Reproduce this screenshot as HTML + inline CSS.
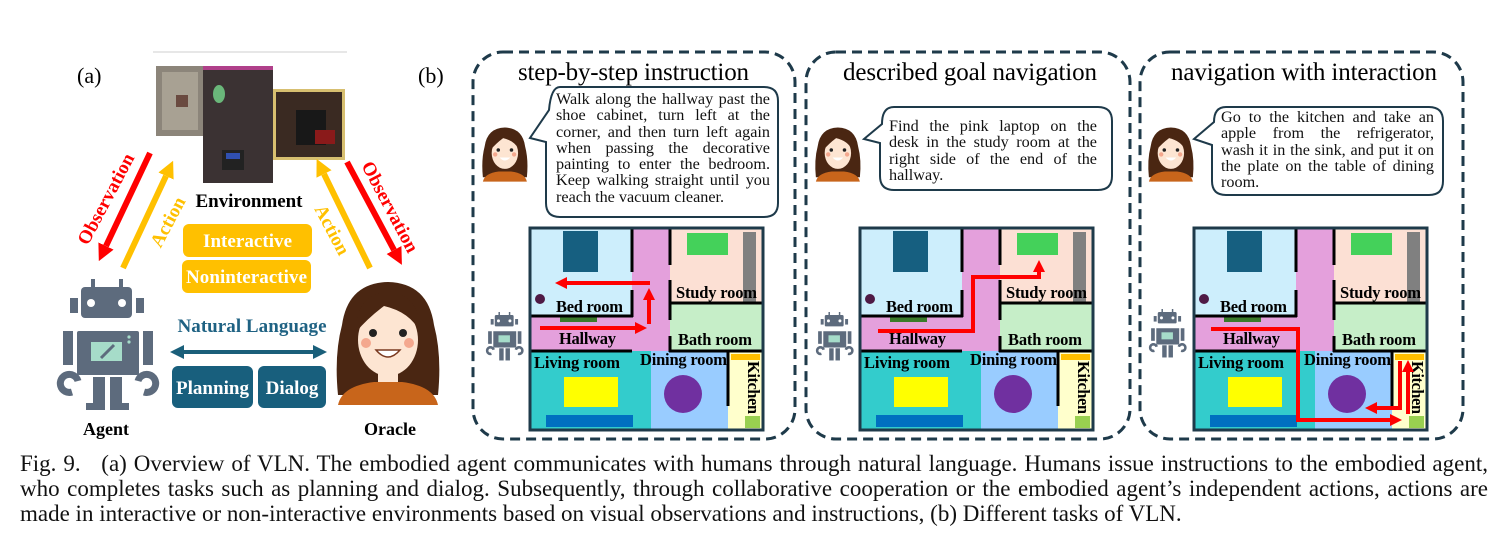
<!DOCTYPE html>
<html><head><meta charset="utf-8">
<style>
html,body{margin:0;padding:0;background:#fff;}
#w{position:relative;width:1504px;height:548px;overflow:hidden;font-family:"Liberation Serif",serif;}
svg{position:absolute;left:0;top:0;}
.bt{position:absolute;font-size:16.2px;line-height:16.3px;color:#111;}
.bt div{text-align:justify;text-align-last:justify;white-space:nowrap;}
.bt div.l{text-align-last:left;}
.cap{position:absolute;left:20px;width:1468px;font-size:23px;line-height:25px;color:#111;}
.cap div{text-align:justify;text-align-last:justify;white-space:nowrap;}
.cap div.l{text-align-last:left;}
</style></head><body><div id="w">
<svg width="1504" height="548" viewBox="0 0 1504 548" font-family="Liberation Serif, serif">
<defs>
<marker id="rh" viewBox="0 0 10 10" refX="0" refY="5" markerWidth="3" markerHeight="3.2" orient="auto"><path d="M0,0L10,5L0,10z" fill="#ff0000"/></marker>
<marker id="rb" viewBox="0 0 10 10" refX="0" refY="5" markerWidth="2.8" markerHeight="3" orient="auto"><path d="M0,0L10,5L0,10z" fill="#ff0000"/></marker>
<marker id="yb" viewBox="0 0 10 10" refX="0" refY="5" markerWidth="2.8" markerHeight="3" orient="auto"><path d="M0,0L10,5L0,10z" fill="#ffc000"/></marker>
<marker id="tb" viewBox="0 0 10 10" refX="0" refY="5" markerWidth="3.5" markerHeight="3.5" orient="auto-start-reverse"><path d="M0,0L10,5L0,10z" fill="#1a5f7a"/></marker>
</defs>

<text x="77" y="83" font-size="22">(a)</text>
<text x="418" y="83" font-size="22">(b)</text>
<line x1="153" y1="52" x2="347" y2="52" stroke="#cfcfcf" stroke-width="1"/>
<rect x="156" y="66" width="48" height="70" fill="#8c857a"/>
<rect x="162" y="72" width="36" height="58" fill="#a8a193"/>
<rect x="176" y="95" width="12" height="12" fill="#6a4a40"/>
<rect x="203" y="66" width="70" height="117" fill="#3b3233"/>
<rect x="203" y="66" width="70" height="4" fill="#b0408a"/>
<ellipse cx="219" cy="94" rx="6" ry="9" fill="#6ab77a"/>
<rect x="222" y="150" width="22" height="20" fill="#222"/>
<rect x="226" y="153" width="14" height="6" fill="#3050b0"/>
<rect x="273" y="89" width="72" height="71" fill="#d7bf70"/>
<rect x="276" y="92" width="66" height="65" fill="#3a2a22"/>
<rect x="296" y="110" width="30" height="35" fill="#181818"/>
<rect x="315" y="130" width="20" height="14" fill="#8a1a1a"/>
<text x="249" y="207" font-size="19" font-weight="bold" text-anchor="middle" textLength="107">Environment</text>

<rect x="183" y="224" width="129" height="33" rx="6" fill="#ffc000"/>
<text x="247.5" y="247" font-size="19" font-weight="bold" fill="#fff" text-anchor="middle" textLength="89">Interactive</text>
<rect x="182" y="260" width="129" height="33" rx="6" fill="#ffc000"/>
<text x="246.5" y="283" font-size="19" font-weight="bold" fill="#fff" text-anchor="middle" textLength="121">Noninteractive</text>

<text x="252" y="332" font-size="19" font-weight="bold" fill="#1f6283" text-anchor="middle" textLength="149">Natural Language</text>
<line x1="184" y1="352" x2="313" y2="352" stroke="#1a5f7a" stroke-width="4" marker-start="url(#tb)" marker-end="url(#tb)"/>
<rect x="172" y="366" width="81" height="42" rx="6" fill="#185f7d"/>
<text x="212.5" y="394" font-size="19" font-weight="bold" fill="#fff" text-anchor="middle" textLength="73">Planning</text>
<rect x="258" y="366" width="68" height="42" rx="6" fill="#185f7d"/>
<text x="292" y="394" font-size="19" font-weight="bold" fill="#fff" text-anchor="middle">Dialog</text>

<line x1="150" y1="153" x2="106" y2="246" stroke="#ff0000" stroke-width="6" marker-end="url(#rb)"/>
<line x1="123" y1="268" x2="166" y2="176" stroke="#ffc000" stroke-width="6" marker-end="url(#yb)"/>
<line x1="370" y1="268" x2="324" y2="174" stroke="#ffc000" stroke-width="6" marker-end="url(#yb)"/>
<line x1="347" y1="162" x2="394" y2="250" stroke="#ff0000" stroke-width="6" marker-end="url(#rb)"/>
<text transform="translate(106,199) rotate(-62)" font-size="19" font-weight="bold" fill="#ff0000" text-anchor="middle" dy="6">Observation</text>
<text transform="translate(168,222) rotate(-62)" font-size="19" font-weight="bold" fill="#ffc000" text-anchor="middle" dy="6">Action</text>
<text transform="translate(332,230) rotate(62)" font-size="19" font-weight="bold" fill="#ffc000" text-anchor="middle" dy="6">Action</text>
<text transform="translate(390,207) rotate(62)" font-size="19" font-weight="bold" fill="#ff0000" text-anchor="middle" dy="6">Observation</text>

<g fill="#5d6b7d">
<rect x="91" y="279" width="4" height="11"/><rect x="119" y="279" width="4" height="11"/>
<rect x="81" y="287" width="51" height="31" rx="4"/>
<circle cx="91" cy="303" r="4" fill="#fff"/><circle cx="122" cy="303" r="4" fill="#fff"/>
<rect x="70" y="298" width="8" height="15"/><rect x="136" y="298" width="8" height="15"/>
<rect x="77" y="331" width="62" height="44" rx="2"/>
<rect x="91" y="342" width="31" height="19" fill="#a6dcc9"/>
<line x1="101" y1="358" x2="114" y2="345" stroke="#5d6b7d" stroke-width="3"/>
<circle cx="129" cy="337" r="1.6" fill="#a6dcc9"/><circle cx="129" cy="342" r="1.6" fill="#a6dcc9"/>
<rect x="63" y="331" width="10" height="34"/><rect x="143" y="331" width="10" height="34"/>
<path d="M72,392 A9,9 0 1 1 78,381" fill="none" stroke="#5d6b7d" stroke-width="7"/>
<path d="M144,392 A9,9 0 1 0 138,381" fill="none" stroke="#5d6b7d" stroke-width="7"/>
<rect x="93" y="377" width="12" height="26"/><rect x="110" y="377" width="12" height="26"/>
<rect x="86" y="403" width="19" height="7"/><rect x="110" y="403" width="19" height="7"/>
</g>
<text x="106" y="435" font-size="18" font-weight="bold" text-anchor="middle">Agent</text>

<g>
<path d="M338,395 Q334,355 342,325 Q348,283 388,282 Q428,283 434,325 Q442,355 438,395 Z" fill="#4a2612"/>
<rect x="378" y="370" width="20" height="20" fill="#fde5d2"/>
<path d="M338,405 Q342,386 374,382 L402,382 Q434,386 438,405 Z" fill="#c8651b"/>
<ellipse cx="388" cy="340" rx="30" ry="36" fill="#fde5d2"/>
<path d="M356,332 Q356,294 388,292 Q420,294 420,332 Q410,312 384,306 Q368,318 356,332 Z" fill="#4a2612"/>
<circle cx="373" cy="333" r="4" fill="#222"/><circle cx="403" cy="333" r="4" fill="#222"/>
<circle cx="366" cy="343" r="5" fill="#f4a88e"/><circle cx="409" cy="343" r="5" fill="#f4a88e"/>
<path d="M376,350 Q388,364 400,350 Z" fill="#fff" stroke="#7a3a20" stroke-width="1.5"/>
</g>
<text x="390" y="435" font-size="18" font-weight="bold" text-anchor="middle">Oracle</text>

<rect x="473" y="52" width="322" height="387" rx="30" fill="none" stroke="#1e3a4a" stroke-width="3" stroke-dasharray="10 6"/>
<rect x="806" y="52" width="324" height="387" rx="30" fill="none" stroke="#1e3a4a" stroke-width="3" stroke-dasharray="10 6"/>
<rect x="1140" y="52" width="323" height="387" rx="30" fill="none" stroke="#1e3a4a" stroke-width="3" stroke-dasharray="10 6"/>
<text x="518" y="80" font-size="25" textLength="231">step-by-step instruction</text>
<text x="843" y="80" font-size="25" textLength="254">described goal navigation</text>
<text x="1171" y="80" font-size="25" textLength="266">navigation with interaction</text>

<path d="M560,87H764Q778,87 778,101V203Q778,217 764,217H560Q546,217 546,203V142L530,138L549,110Q551,87 560,87Z" fill="#fff" stroke="#1e3a4a" stroke-width="2"/>
<path d="M894,107H1098Q1112,107 1112,121V176Q1112,190 1098,190H894Q880,190 880,176V143L864,139L882,124Q882,107 894,107Z" fill="#fff" stroke="#1e3a4a" stroke-width="2"/>
<path d="M1226,107H1429Q1443,107 1443,121V181Q1443,195 1429,195H1226Q1212,195 1212,181V145L1194,139L1214,122Q1214,107 1226,107Z" fill="#fff" stroke="#1e3a4a" stroke-width="2"/>

<g transform="translate(482,128) scale(0.44) translate(-336,-283)">
<path d="M338,395 Q334,355 342,325 Q348,283 388,282 Q428,283 434,325 Q442,355 438,395 Z" fill="#4a2612"/><path d="M338,405 Q342,386 374,382 L402,382 Q434,386 438,405 Z" fill="#c8651b"/><ellipse cx="388" cy="340" rx="30" ry="36" fill="#fde5d2"/><path d="M356,332 Q356,294 388,292 Q420,294 420,332 Q410,312 384,306 Q368,318 356,332 Z" fill="#4a2612"/><circle cx="373" cy="333" r="4" fill="#222"/><circle cx="403" cy="333" r="4" fill="#222"/><circle cx="366" cy="343" r="5" fill="#f4a88e"/><circle cx="409" cy="343" r="5" fill="#f4a88e"/><path d="M376,350 Q388,364 400,350 Z" fill="#fff"/>
</g>
<g transform="translate(815,128) scale(0.44) translate(-336,-283)">
<path d="M338,395 Q334,355 342,325 Q348,283 388,282 Q428,283 434,325 Q442,355 438,395 Z" fill="#4a2612"/><path d="M338,405 Q342,386 374,382 L402,382 Q434,386 438,405 Z" fill="#c8651b"/><ellipse cx="388" cy="340" rx="30" ry="36" fill="#fde5d2"/><path d="M356,332 Q356,294 388,292 Q420,294 420,332 Q410,312 384,306 Q368,318 356,332 Z" fill="#4a2612"/><circle cx="373" cy="333" r="4" fill="#222"/><circle cx="403" cy="333" r="4" fill="#222"/><circle cx="366" cy="343" r="5" fill="#f4a88e"/><circle cx="409" cy="343" r="5" fill="#f4a88e"/><path d="M376,350 Q388,364 400,350 Z" fill="#fff"/>
</g>
<g transform="translate(1148,128) scale(0.44) translate(-336,-283)">
<path d="M338,395 Q334,355 342,325 Q348,283 388,282 Q428,283 434,325 Q442,355 438,395 Z" fill="#4a2612"/><path d="M338,405 Q342,386 374,382 L402,382 Q434,386 438,405 Z" fill="#c8651b"/><ellipse cx="388" cy="340" rx="30" ry="36" fill="#fde5d2"/><path d="M356,332 Q356,294 388,292 Q420,294 420,332 Q410,312 384,306 Q368,318 356,332 Z" fill="#4a2612"/><circle cx="373" cy="333" r="4" fill="#222"/><circle cx="403" cy="333" r="4" fill="#222"/><circle cx="366" cy="343" r="5" fill="#f4a88e"/><circle cx="409" cy="343" r="5" fill="#f4a88e"/><path d="M376,350 Q388,364 400,350 Z" fill="#fff"/>
</g>

<g transform="translate(487,312) scale(0.37) translate(-60,-279)" fill="#5d6b7d">
<rect x="91" y="279" width="4" height="11"/><rect x="119" y="279" width="4" height="11"/><rect x="81" y="287" width="51" height="31" rx="4"/><circle cx="91" cy="303" r="4" fill="#fff"/><circle cx="122" cy="303" r="4" fill="#fff"/><rect x="70" y="298" width="8" height="15"/><rect x="136" y="298" width="8" height="15"/><rect x="77" y="331" width="62" height="44"/><rect x="91" y="342" width="31" height="19" fill="#a6dcc9"/><rect x="63" y="331" width="10" height="34"/><rect x="143" y="331" width="10" height="34"/><path d="M72,392 A9,9 0 1 1 78,381" fill="none" stroke="#5d6b7d" stroke-width="7"/><path d="M144,392 A9,9 0 1 0 138,381" fill="none" stroke="#5d6b7d" stroke-width="7"/><rect x="93" y="377" width="12" height="33"/><rect x="110" y="377" width="12" height="33"/>
</g>
<g transform="translate(817,312) scale(0.37) translate(-60,-279)" fill="#5d6b7d">
<rect x="91" y="279" width="4" height="11"/><rect x="119" y="279" width="4" height="11"/><rect x="81" y="287" width="51" height="31" rx="4"/><circle cx="91" cy="303" r="4" fill="#fff"/><circle cx="122" cy="303" r="4" fill="#fff"/><rect x="70" y="298" width="8" height="15"/><rect x="136" y="298" width="8" height="15"/><rect x="77" y="331" width="62" height="44"/><rect x="91" y="342" width="31" height="19" fill="#a6dcc9"/><rect x="63" y="331" width="10" height="34"/><rect x="143" y="331" width="10" height="34"/><path d="M72,392 A9,9 0 1 1 78,381" fill="none" stroke="#5d6b7d" stroke-width="7"/><path d="M144,392 A9,9 0 1 0 138,381" fill="none" stroke="#5d6b7d" stroke-width="7"/><rect x="93" y="377" width="12" height="33"/><rect x="110" y="377" width="12" height="33"/>
</g>
<g transform="translate(1150,309) scale(0.37) translate(-60,-279)" fill="#5d6b7d">
<rect x="91" y="279" width="4" height="11"/><rect x="119" y="279" width="4" height="11"/><rect x="81" y="287" width="51" height="31" rx="4"/><circle cx="91" cy="303" r="4" fill="#fff"/><circle cx="122" cy="303" r="4" fill="#fff"/><rect x="70" y="298" width="8" height="15"/><rect x="136" y="298" width="8" height="15"/><rect x="77" y="331" width="62" height="44"/><rect x="91" y="342" width="31" height="19" fill="#a6dcc9"/><rect x="63" y="331" width="10" height="34"/><rect x="143" y="331" width="10" height="34"/><path d="M72,392 A9,9 0 1 1 78,381" fill="none" stroke="#5d6b7d" stroke-width="7"/><path d="M144,392 A9,9 0 1 0 138,381" fill="none" stroke="#5d6b7d" stroke-width="7"/><rect x="93" y="377" width="12" height="33"/><rect x="110" y="377" width="12" height="33"/>
</g>

<g transform="translate(530,228)">
<rect x="0" y="0" width="102" height="88" fill="#cdeefc"/><rect x="102" y="0" width="38" height="123" fill="#e4a0dc"/><rect x="0" y="88" width="140" height="35" fill="#e4a0dc"/><rect x="140" y="0" width="93" height="75" fill="#fce0d4"/><rect x="140" y="75" width="93" height="48" fill="#c6eec8"/><rect x="0" y="123" width="121" height="79" fill="#33cccc"/><rect x="121" y="123" width="77" height="79" fill="#99ccff"/><rect x="198" y="123" width="35" height="79" fill="#ffffcc"/>
<rect x="33" y="3" width="35" height="41" fill="#165f80"/><circle cx="10" cy="71" r="5" fill="#4f1a45"/><rect x="30" y="89" width="37" height="5" fill="#3a7a2a"/><rect x="157" y="5" width="41" height="22" fill="#44d15a"/><rect x="213" y="4" width="13" height="70" fill="#808080"/><rect x="201" y="126" width="29" height="6" fill="#ffbf00"/><rect x="215" y="188" width="15" height="12" fill="#99d050"/><rect x="34" y="149" width="54" height="30" fill="#ffff00"/><rect x="16" y="187" width="87" height="12" fill="#0070c0"/><circle cx="153" cy="166" r="19" fill="#7030a0"/>
<path d="M102 0V44M102 62V89M0 88H103M140 0V37M140 52V92M140 108V124M140 75H233M0 123H102M139 123H233M198 123V178" stroke="#000" stroke-width="3" fill="none"/>
<rect x="0" y="0" width="233" height="202" fill="none" stroke="#1e3a4a" stroke-width="3"/>
<g font-size="16.5" font-weight="bold"><text x="26" y="84" textLength="67">Bed room</text><text x="146" y="70" textLength="81">Study room</text><text x="29" y="116" textLength="57">Hallway</text><text x="148" y="117" textLength="74">Bath room</text><text x="4" y="140" textLength="86">Living room</text><text x="110" y="137" textLength="87">Dining room</text><text transform="translate(218,133) rotate(90)" textLength="53">Kitchen</text></g>
<line x1="10" y1="100" x2="105" y2="100" stroke="#ff0000" stroke-width="4" marker-end="url(#rh)"/>
<line x1="119" y1="96" x2="119" y2="72" stroke="#ff0000" stroke-width="4" marker-end="url(#rh)"/>
<line x1="120" y1="55" x2="37" y2="55" stroke="#ff0000" stroke-width="4" marker-end="url(#rh)"/>
</g>

<g transform="translate(860,228)">
<rect x="0" y="0" width="102" height="88" fill="#cdeefc"/><rect x="102" y="0" width="38" height="123" fill="#e4a0dc"/><rect x="0" y="88" width="140" height="35" fill="#e4a0dc"/><rect x="140" y="0" width="93" height="75" fill="#fce0d4"/><rect x="140" y="75" width="93" height="48" fill="#c6eec8"/><rect x="0" y="123" width="121" height="79" fill="#33cccc"/><rect x="121" y="123" width="77" height="79" fill="#99ccff"/><rect x="198" y="123" width="35" height="79" fill="#ffffcc"/>
<rect x="33" y="3" width="35" height="41" fill="#165f80"/><circle cx="10" cy="71" r="5" fill="#4f1a45"/><rect x="30" y="89" width="37" height="5" fill="#3a7a2a"/><rect x="157" y="5" width="41" height="22" fill="#44d15a"/><rect x="213" y="4" width="13" height="70" fill="#808080"/><rect x="201" y="126" width="29" height="6" fill="#ffbf00"/><rect x="215" y="188" width="15" height="12" fill="#99d050"/><rect x="34" y="149" width="54" height="30" fill="#ffff00"/><rect x="16" y="187" width="87" height="12" fill="#0070c0"/><circle cx="153" cy="166" r="19" fill="#7030a0"/>
<path d="M102 0V44M102 62V89M0 88H103M140 0V37M140 52V92M140 108V124M140 75H233M0 123H102M139 123H233M198 123V178" stroke="#000" stroke-width="3" fill="none"/>
<rect x="0" y="0" width="233" height="202" fill="none" stroke="#1e3a4a" stroke-width="3"/>
<g font-size="16.5" font-weight="bold"><text x="26" y="84" textLength="67">Bed room</text><text x="146" y="70" textLength="81">Study room</text><text x="29" y="116" textLength="57">Hallway</text><text x="148" y="117" textLength="74">Bath room</text><text x="4" y="140" textLength="86">Living room</text><text x="110" y="137" textLength="87">Dining room</text><text transform="translate(218,133) rotate(90)" textLength="53">Kitchen</text></g>
<polyline points="18,103 113,103 113,49 179,49 179,44" fill="none" stroke="#ff0000" stroke-width="4" marker-end="url(#rh)"/>
</g>

<g transform="translate(1194,228)">
<rect x="0" y="0" width="102" height="88" fill="#cdeefc"/><rect x="102" y="0" width="38" height="123" fill="#e4a0dc"/><rect x="0" y="88" width="140" height="35" fill="#e4a0dc"/><rect x="140" y="0" width="93" height="75" fill="#fce0d4"/><rect x="140" y="75" width="93" height="48" fill="#c6eec8"/><rect x="0" y="123" width="121" height="79" fill="#33cccc"/><rect x="121" y="123" width="77" height="79" fill="#99ccff"/><rect x="198" y="123" width="35" height="79" fill="#ffffcc"/>
<rect x="33" y="3" width="35" height="41" fill="#165f80"/><circle cx="10" cy="71" r="5" fill="#4f1a45"/><rect x="30" y="89" width="37" height="5" fill="#3a7a2a"/><rect x="157" y="5" width="41" height="22" fill="#44d15a"/><rect x="213" y="4" width="13" height="70" fill="#808080"/><rect x="201" y="126" width="29" height="6" fill="#ffbf00"/><rect x="215" y="188" width="15" height="12" fill="#99d050"/><rect x="34" y="149" width="54" height="30" fill="#ffff00"/><rect x="16" y="187" width="87" height="12" fill="#0070c0"/><circle cx="153" cy="166" r="19" fill="#7030a0"/>
<path d="M102 0V44M102 62V89M0 88H103M140 0V37M140 52V92M140 108V124M140 75H233M0 123H102M139 123H233M198 123V178" stroke="#000" stroke-width="3" fill="none"/>
<rect x="0" y="0" width="233" height="202" fill="none" stroke="#1e3a4a" stroke-width="3"/>
<g font-size="16.5" font-weight="bold"><text x="26" y="84" textLength="67">Bed room</text><text x="146" y="70" textLength="81">Study room</text><text x="29" y="116" textLength="57">Hallway</text><text x="148" y="117" textLength="74">Bath room</text><text x="4" y="140" textLength="86">Living room</text><text x="110" y="137" textLength="87">Dining room</text><text transform="translate(218,133) rotate(90)" textLength="53">Kitchen</text></g>
<polyline points="17,101 104,101 104,192 196,192" fill="none" stroke="#ff0000" stroke-width="4" marker-end="url(#rh)"/>
<line x1="214" y1="186" x2="214" y2="144" stroke="#ff0000" stroke-width="4" marker-end="url(#rh)"/>
<polyline points="206,133 206,180 183,180" fill="none" stroke="#ff0000" stroke-width="4" marker-end="url(#rh)"/>
</g>
</svg>

<div class="bt" style="left:556px;top:91px;width:214px;">
<div>Walk along the hallway past the</div>
<div>shoe cabinet, turn left at the</div>
<div>corner, and then turn left again</div>
<div>when passing the decorative</div>
<div>painting to enter the bedroom.</div>
<div>Keep walking straight until you</div>
<div class="l">reach the vacuum cleaner.</div>
</div>
<div class="bt" style="left:889px;top:118px;width:208px;">
<div>Find the pink laptop on the</div>
<div>desk in the study room at the</div>
<div>right side of the end of the</div>
<div class="l">hallway.</div>
</div>
<div class="bt" style="left:1221px;top:109px;width:213px;">
<div>Go to the kitchen and take an</div>
<div>apple from the refrigerator,</div>
<div>wash it in the sink, and put it on</div>
<div>the plate on the table of dining</div>
<div class="l">room.</div>
</div>

<div class="cap" style="top:451px;">
<div>Fig. 9.&nbsp;&nbsp; (a) Overview of VLN. The embodied agent communicates with humans through natural language. Humans issue instructions to the embodied agent,</div>
<div>who completes tasks such as planning and dialog. Subsequently, through collaborative cooperation or the embodied agent’s independent actions, actions are</div>
<div class="l">made in interactive or non-interactive environments based on visual observations and instructions, (b) Different tasks of VLN.</div>
</div>
</div></body></html>
